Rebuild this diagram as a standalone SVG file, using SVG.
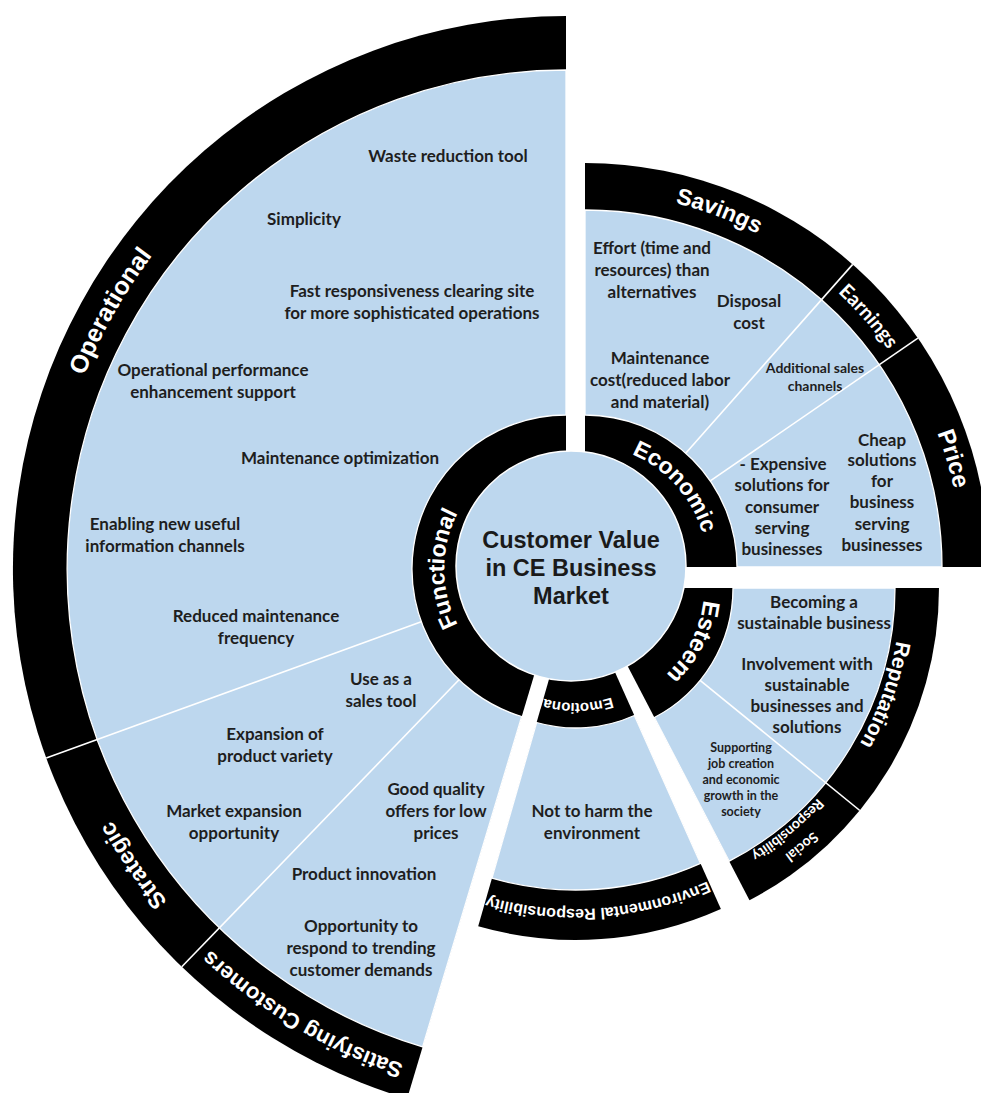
<svg xmlns="http://www.w3.org/2000/svg" width="981" height="1093" viewBox="0 0 981 1093">
<defs>
<style>
.band{fill:#000}
.cell{fill:#bdd7ee;stroke:#fff;stroke-width:1.3}
.div{stroke:#fff;stroke-width:1.6;fill:none}
.t{font-family:Lato,"Liberation Sans",sans-serif;font-weight:700;font-size:17px;fill:#1e1e1e;text-anchor:middle;dominant-baseline:central}
.ts{font-size:14px}
.tx{font-size:12.5px}
.lab{font-family:"Liberation Sans",Arial,sans-serif;font-weight:700;fill:#fff}
.labc{font-family:Lato,"Liberation Sans",sans-serif;font-weight:700;fill:#fff}
.hub{font-family:"Liberation Sans",Arial,sans-serif;font-weight:700;font-size:23.5px;fill:#1a1a1a;text-anchor:middle;dominant-baseline:central}
</style>
<path id="pFunctional" d="M 544.8,689.1 A 122 122 0 0 1 544.8,448.9"/>
<path id="pEconomic" d="M 560.3,447.5 A 122 122 0 0 1 700.8,605.3"/>
<path id="pEsteem" d="M 684.8,523.8 A 117 117 0 0 1 593.6,704.8"/>
<path id="pEmotional" d="M 678.2,644 A 118 118 0 0 1 473.8,644"/>
<path id="pOperational" d="M 55.7,663.6 A 519 519 0 0 1 384.2,82.9"/>
<path id="pStrategic" d="M 341.7,1037 A 519 519 0 0 1 48.5,608.8"/>
<path id="pSatisfying" d="M 651.1,1083 A 521 521 0 0 1 74.6,742.1"/>
<path id="pSavings" d="M 460.8,213.2 A 375 375 0 0 1 911.9,383.2"/>
<path id="pEarnings" d="M 640.1,198.1 A 373 373 0 0 1 957.9,557.2"/>
<path id="pPrice" d="M 793.6,253 A 377 377 0 0 1 930.5,717.9"/>
<path id="pReputation" d="M 881.5,479.1 A 314 314 0 0 1 745.4,859.1"/>
<path id="pSocial" d="M 913.7,647.4 A 332 332 0 0 1 585.3,920"/>
<path id="pResp" d="M 894,643.8 A 312 312 0 0 1 585.4,900"/>
<path id="pEnv" d="M 801.1,818.1 A 324 324 0 0 1 385.6,847.1"/>
</defs>
<rect width="981" height="1093" fill="#fff"/>

<g id="functional">
<path class="band" d="M 566,569 L 407.1,1098.7 A 553 553 0 0 1 566,16 Z"/>
<path class="cell" d="M 422.6,1046.9 A 499 499 0 0 1 566,70 L 566,415 A 154 154 0 0 0 521.7,716.5 Z"/>
<text class="lab" font-size="23"><textPath href="#pFunctional" startOffset="50%" text-anchor="middle">Functional</textPath></text>
<text class="lab" font-size="25"><textPath href="#pOperational" startOffset="50%" text-anchor="middle">Operational</textPath></text>
<text class="lab" font-size="23"><textPath href="#pStrategic" startOffset="50%" text-anchor="middle">Strategic</textPath></text>
<text class="lab" font-size="22"><textPath href="#pSatisfying" startOffset="50%" text-anchor="middle">Satisfying Customers</textPath></text>
<text class="t" x="448" y="155">Waste reduction tool</text>
<text class="t" x="304" y="218">Simplicity</text>
<text class="t"><tspan x="412" y="290">Fast responsiveness clearing site</tspan><tspan x="412" y="312">for more sophisticated operations</tspan></text>
<text class="t"><tspan x="213" y="369">Operational performance</tspan><tspan x="213" y="391">enhancement support</tspan></text>
<text class="t" x="340" y="457">Maintenance optimization</text>
<text class="t"><tspan x="165" y="523">Enabling new useful</tspan><tspan x="165" y="545">information channels</tspan></text>
<text class="t"><tspan x="256" y="615">Reduced maintenance</tspan><tspan x="256" y="637">frequency</tspan></text>
<text class="t"><tspan x="381" y="678">Use as a</tspan><tspan x="381" y="700">sales tool</tspan></text>
<text class="t"><tspan x="275" y="733">Expansion of</tspan><tspan x="275" y="755">product variety</tspan></text>
<text class="t"><tspan x="234" y="810">Market expansion</tspan><tspan x="234" y="832">opportunity</tspan></text>
<text class="t"><tspan x="436" y="788">Good quality</tspan><tspan x="436" y="810">offers for low</tspan><tspan x="436" y="832">prices</tspan></text>
<text class="t" x="364" y="873">Product innovation</text>
<text class="t"><tspan x="361" y="925">Opportunity to</tspan><tspan x="361" y="947">respond to trending</tspan><tspan x="361" y="969">customer demands</tspan></text>
</g>

<g id="economic">
<path class="band" d="M 585,567 L 585,163 A 404 404 0 0 1 989,567 Z"/>
<path class="cell" d="M 585,210 A 357 357 0 0 1 942,567 L 737,567 A 152 152 0 0 0 585,415 Z"/>
<text class="lab" font-size="23"><textPath href="#pEconomic" startOffset="50%" text-anchor="middle">Economic</textPath></text>
<text class="lab" font-size="23"><textPath href="#pSavings" startOffset="50%" text-anchor="middle">Savings</textPath></text>
<text class="labc" font-size="20"><textPath href="#pEarnings" startOffset="50%" text-anchor="middle">Earnings</textPath></text>
<text class="lab" font-size="24"><textPath href="#pPrice" startOffset="50%" text-anchor="middle">Price</textPath></text>
<text class="t"><tspan x="652" y="247">Effort (time and</tspan><tspan x="652" y="269">resources) than</tspan><tspan x="652" y="291">alternatives</tspan></text>
<text class="t"><tspan x="749" y="300">Disposal</tspan><tspan x="749" y="322">cost</tspan></text>
<text class="t"><tspan x="660" y="357">Maintenance</tspan><tspan x="660" y="379">cost(reduced labor</tspan><tspan x="660" y="401">and material)</tspan></text>
<text class="t ts"><tspan x="815" y="367">Additional sales</tspan><tspan x="815" y="385">channels</tspan></text>
<text class="t"><tspan x="783" y="463">- Expensive</tspan><tspan x="782" y="484">solutions for</tspan><tspan x="782" y="506">consumer</tspan><tspan x="782" y="527">serving</tspan><tspan x="782" y="548">businesses</tspan></text>
<text class="t"><tspan x="882" y="439">Cheap</tspan><tspan x="882" y="459">solutions</tspan><tspan x="882" y="480">for</tspan><tspan x="882" y="501">business</tspan><tspan x="882" y="523">serving</tspan><tspan x="882" y="544">businesses</tspan></text>
</g>

<g id="esteem">
<path class="band" d="M 587,588 L 939,588 A 352 352 0 0 1 749.5,900.2 Z"/>
<path class="cell" d="M 895,588 A 308 308 0 0 1 729.2,861.2 L 654.4,717.5 A 146 146 0 0 0 733,588 Z"/>
<text class="lab" font-size="24"><textPath href="#pEsteem" startOffset="50%" text-anchor="middle">Esteem</textPath></text>
<text class="lab" font-size="21"><textPath href="#pReputation" startOffset="50%" text-anchor="middle">Reputation</textPath></text>
<text class="labc" font-size="14"><textPath href="#pSocial" startOffset="50%" text-anchor="middle">Social</textPath></text>
<text class="labc" font-size="14"><textPath href="#pResp" startOffset="50%" text-anchor="middle">Responsibility</textPath></text>
<text class="t"><tspan x="814" y="601">Becoming a</tspan><tspan x="814" y="622">sustainable business</tspan></text>
<text class="t"><tspan x="807" y="663">Involvement with</tspan><tspan x="807" y="684">sustainable</tspan><tspan x="807" y="705">businesses and</tspan><tspan x="807" y="726">solutions</tspan></text>
<text class="t tx"><tspan x="741" y="747">Supporting</tspan><tspan x="741" y="763">job creation</tspan><tspan x="741" y="779">and economic</tspan><tspan x="741" y="795">growth in the</tspan><tspan x="741" y="811">society</tspan></text>
</g>

<g id="emotional">
<path class="band" d="M 576,585 L 720.9,909 A 355 355 0 0 1 478.2,926.3 Z"/>
<path class="cell" d="M 700.5,863.4 A 305 305 0 0 1 491.9,878.2 L 536.6,722.5 A 143 143 0 0 0 634.4,715.5 Z"/>
<text class="lab" font-size="15"><textPath href="#pEmotional" startOffset="50%" text-anchor="middle">Emotional</textPath></text>
<text class="lab" font-size="16"><textPath href="#pEnv" startOffset="50%" text-anchor="middle">Environmental Responsibility</textPath></text>
<text class="t"><tspan x="592" y="810">Not to harm the</tspan><tspan x="592" y="832">environment</tspan></text>
</g>

<g id="dividers">
<line class="div" x1="421.3" y1="621.7" x2="46.3" y2="758.1"/>
<line class="div" x1="459" y1="679.8" x2="181.8" y2="966.8"/>
<line class="div" x1="685.7" y1="453.2" x2="852.7" y2="264.4"/>
<line class="div" x1="710.3" y1="480.9" x2="917.9" y2="338.2"/>
<line class="div" x1="700.1" y1="680.3" x2="859.8" y2="810.5"/>
</g>

<g id="hub">
<circle cx="571" cy="566" r="115" fill="#bdd7ee" stroke="#fff" stroke-width="1.5"/>
<text class="hub"><tspan x="571" y="540">Customer Value</tspan><tspan x="571" y="568">in CE Business</tspan><tspan x="571" y="596">Market</tspan></text>
</g>
</svg>
